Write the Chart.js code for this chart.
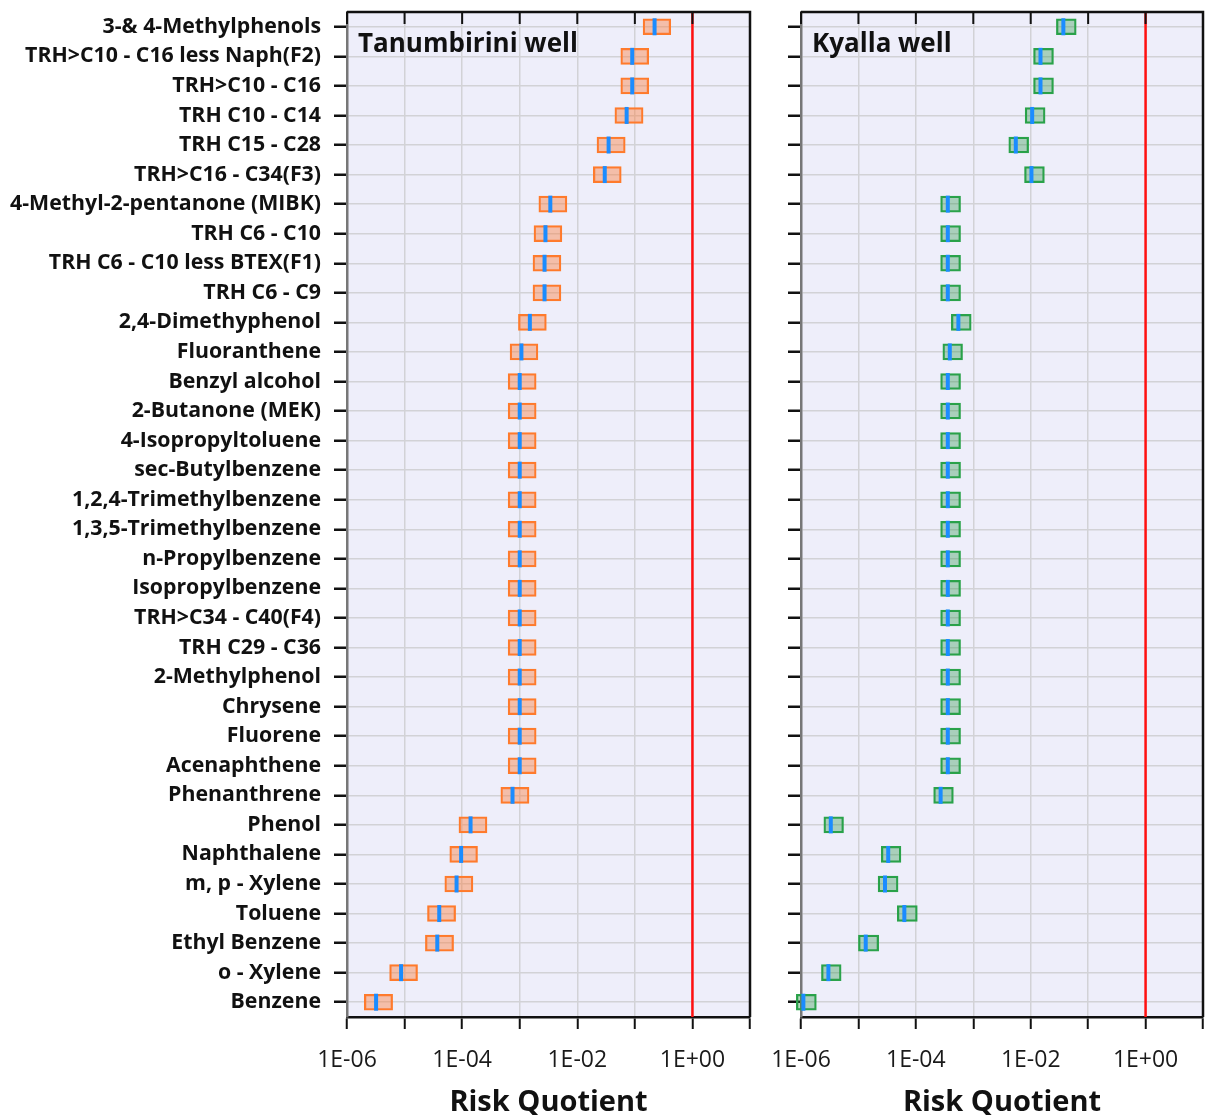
<!DOCTYPE html>
<html>
<head>
<meta charset="utf-8">
<script src="https://cdn.jsdelivr.net/npm/chart.js@4.4.1/dist/chart.umd.min.js"></script>
<style>
  html, body { margin: 0; padding: 0; background: #ffffff; }
  #wrap { position: relative; width: 1206px; height: 1115px; overflow: hidden; }
  .panel { position: absolute; top: 0; height: 1115px; }
  #pL { left: 0; width: 760px; }
  #pR { left: 760px; width: 446px; }
</style>
</head>
<body>
<div id="wrap">
  <div class="panel" id="pL"><canvas id="cL"></canvas></div>
  <div class="panel" id="pR"><canvas id="cR"></canvas></div>
</div>
<script>
const categories = [
  '3-& 4-Methylphenols', 'TRH>C10 - C16 less Naph(F2)', 'TRH>C10 - C16', 'TRH C10 - C14',
  'TRH C15 - C28', 'TRH>C16 - C34(F3)', '4-Methyl-2-pentanone (MIBK)', 'TRH C6 - C10',
  'TRH C6 - C10 less BTEX(F1)', 'TRH C6 - C9', '2,4-Dimethyphenol', 'Fluoranthene',
  'Benzyl alcohol', '2-Butanone (MEK)', '4-Isopropyltoluene', 'sec-Butylbenzene',
  '1,2,4-Trimethylbenzene', '1,3,5-Trimethylbenzene', 'n-Propylbenzene', 'Isopropylbenzene',
  'TRH>C34 - C40(F4)', 'TRH C29 - C36', '2-Methylphenol', 'Chrysene', 'Fluorene',
  'Acenaphthene', 'Phenanthrene', 'Phenol', 'Naphthalene', 'm, p - Xylene', 'Toluene',
  'Ethyl Benzene', 'o - Xylene', 'Benzene'
];

// Tanumbirini well: central value and box extents
const tanValues = [0.22, 0.09, 0.09, 0.072, 0.035, 0.030, 0.0034, 0.0028, 0.0027, 0.0027,
  0.0015, 0.00107, 0.001, 0.001, 0.001, 0.001, 0.001, 0.001, 0.001, 0.001,
  0.001, 0.001, 0.001, 0.001, 0.001, 0.001, 0.00075, 1.4e-4, 9.6e-5, 8.0e-5,
  4.0e-5, 3.7e-5, 8.7e-6, 3.2e-6];
const tanLow = [0.139, 0.057, 0.057, 0.045, 0.022, 0.019, 0.00215, 0.00177, 0.0017, 0.0017,
  0.00095, 0.00068, 0.00063, 0.00063, 0.00063, 0.00063, 0.00063, 0.00063, 0.00063, 0.00063,
  0.00063, 0.00063, 0.00063, 0.00063, 0.00063, 0.00063, 0.00047, 8.8e-5, 6.1e-5, 5.0e-5,
  2.5e-5, 2.3e-5, 5.5e-6, 2.0e-6];
const tanHigh = [0.42, 0.174, 0.174, 0.139, 0.068, 0.058, 0.0066, 0.0054, 0.0052, 0.0052,
  0.0029, 0.00207, 0.00193, 0.00193, 0.00193, 0.00193, 0.00193, 0.00193, 0.00193, 0.00193,
  0.00193, 0.00193, 0.00193, 0.00193, 0.00193, 0.00193, 0.00145, 2.7e-4, 1.85e-4, 1.54e-4,
  7.7e-5, 7.1e-5, 1.68e-5, 6.2e-6];

// Kyalla well: central value and box extents
const kyaValues = [0.037, 0.0148, 0.0148, 0.0106, 0.0055, 0.0103, 3.6e-4, 3.6e-4, 3.6e-4, 3.6e-4,
  5.5e-4, 3.9e-4, 3.6e-4, 3.6e-4, 3.6e-4, 3.6e-4, 3.6e-4, 3.6e-4, 3.6e-4, 3.6e-4,
  3.6e-4, 3.6e-4, 3.6e-4, 3.6e-4, 3.6e-4, 3.6e-4, 2.7e-4, 3.3e-6, 3.3e-5, 2.9e-5,
  6.3e-5, 1.34e-5, 3.0e-6, 1.1e-6];
const kyaLow = [0.028, 0.0112, 0.0112, 0.008, 0.00415, 0.0078, 2.7e-4, 2.7e-4, 2.7e-4, 2.7e-4,
  4.15e-4, 2.95e-4, 2.7e-4, 2.7e-4, 2.7e-4, 2.7e-4, 2.7e-4, 2.7e-4, 2.7e-4, 2.7e-4,
  2.7e-4, 2.7e-4, 2.7e-4, 2.7e-4, 2.7e-4, 2.7e-4, 2.04e-4, 2.5e-6, 2.5e-5, 2.2e-5,
  4.75e-5, 1.0e-5, 2.27e-6, 8.3e-7];
const kyaHigh = [0.062, 0.0249, 0.0249, 0.0178, 0.0092, 0.0173, 6.0e-4, 6.0e-4, 6.0e-4, 6.0e-4,
  9.2e-4, 6.5e-4, 6.0e-4, 6.0e-4, 6.0e-4, 6.0e-4, 6.0e-4, 6.0e-4, 6.0e-4, 6.0e-4,
  6.0e-4, 6.0e-4, 6.0e-4, 6.0e-4, 6.0e-4, 6.0e-4, 4.5e-4, 5.5e-6, 5.5e-5, 4.9e-5,
  1.06e-4, 2.25e-5, 5.0e-6, 1.85e-6];

const xTickValues = [1e-6, 1e-5, 1e-4, 1e-3, 1e-2, 1e-1, 1, 10];
const xTickLabels = ['1E-06', '', '1E-04', '', '1E-02', '', '1E+00', ''];
const thresholdValue = 1;
const panelTitles = ['Tanumbirini well', 'Kyalla well'];

const FONT = '"Open Sans", Lato, sans-serif';

const framePlugin = {
  id: 'frame',
  beforeDraw(chart) {
    const {ctx, chartArea: a} = chart;
    ctx.save();
    ctx.fillStyle = '#eeeefa';
    ctx.fillRect(a.left, a.top, a.right - a.left, a.bottom - a.top);
    ctx.restore();
  },
  afterDatasetsDraw(chart) {
    const {ctx, chartArea: a, scales} = chart;
    const xr = scales.x.getPixelForValue(thresholdValue);
    ctx.save();
    ctx.strokeStyle = '#ff1010';
    ctx.lineWidth = 2.5;
    ctx.beginPath();
    ctx.moveTo(xr, a.top);
    ctx.lineTo(xr, a.bottom);
    ctx.stroke();
    ctx.restore();
  },
  afterDraw(chart, args, opts) {
    const {ctx, chartArea: a, scales} = chart;
    ctx.save();
    ctx.strokeStyle = '#111';
    ctx.lineWidth = 2.5;
    ctx.beginPath();
    ctx.moveTo(a.left, a.top);
    ctx.lineTo(a.right, a.top);
    ctx.lineTo(a.right, a.bottom);
    ctx.stroke();
    ctx.lineWidth = 2;
    xTickValues.forEach(v => {
      const px = scales.x.getPixelForValue(v);
      ctx.beginPath();
      ctx.moveTo(px, a.top);
      ctx.lineTo(px, a.top + 12);
      ctx.stroke();
    });
    ctx.fillStyle = '#111';
    ctx.font = 'bold 26px ' + FONT;
    ctx.textBaseline = 'alphabetic';
    ctx.textAlign = 'left';
    ctx.fillText(opts.title, a.left + 11, a.top + 40);
    ctx.restore();
  }
};

function zeroPad(s) {
  s.paddingLeft = 0; s.paddingRight = 0; s.paddingTop = 0; s.paddingBottom = 0;
}

function makeChart(id, low, high, values, fill, border, showLabels, yWidth, padRight, title) {
  return new Chart(document.getElementById(id), {
    type: 'bar',
    data: {
      labels: categories,
      datasets: [
        {
          type: 'line',
          data: values,
          showLine: false,
          pointStyle: 'line',
          pointRotation: 90,
          pointRadius: 8.5,
          pointHoverRadius: 8.5,
          pointBorderWidth: 4,
          pointBorderColor: '#1b8cff',
          pointBackgroundColor: '#1b8cff',
          order: 0,
          clip: false
        },
        {
          type: 'bar',
          data: low.map((l, i) => [l, high[i]]),
          backgroundColor: fill,
          borderColor: border,
          borderWidth: 1.6,
          borderSkipped: false,
          barThickness: 16,
          order: 1,
          clip: false
        }
      ]
    },
    options: {
      indexAxis: 'y',
      responsive: true,
      maintainAspectRatio: false,
      animation: false,
      events: [],
      layout: { autoPadding: false, padding: { top: 12, right: padRight, left: 0, bottom: 0 } },
      plugins: {
        legend: { display: false },
        tooltip: { enabled: false },
        frame: { title: title }
      },
      scales: {
        x: {
          type: 'logarithmic',
          position: 'bottom',
          min: 1e-6,
          max: 10,
          afterBuildTicks: s => { s.ticks = xTickValues.map(v => ({ value: v })); },
          afterFit: s => { s.height = 98; zeroPad(s); },
          ticks: {
            autoSkip: false,
            maxRotation: 0,
            padding: 18,
            color: '#1a1a1a',
            font: { family: FONT, size: 23 },
            callback: (v, i) => xTickLabels[i]
          },
          grid: {
            color: '#d2d2d6',
            lineWidth: 1.5,
            tickColor: '#111',
            tickWidth: 2,
            tickLength: 12
          },
          border: { color: '#111', width: 2.5 },
          title: {
            display: true,
            text: 'Risk Quotient',
            color: '#111',
            font: { family: FONT, size: 29, weight: 'bold', lineHeight: 1 },
            padding: { top: 0, bottom: -2 }
          }
        },
        y: {
          type: 'category',
          offset: true,
          afterFit: s => { s.width = yWidth; zeroPad(s); },
          ticks: {
            display: showLabels,
            autoSkip: false,
            padding: 13,
            color: '#111',
            font: { family: FONT, size: 21.3, weight: 'bold' }
          },
          grid: {
            offset: false,
            color: '#d2d2d6',
            lineWidth: 1.5,
            tickColor: '#111',
            tickWidth: 2.5,
            tickLength: 13
          },
          border: { color: '#777', width: 2.5 }
        }
      }
    },
    plugins: [framePlugin]
  });
}

makeChart('cL', tanLow, tanHigh, tanValues, 'rgba(250,130,70,0.45)', '#ff7a2a', true, 347, 10, panelTitles[0]);
makeChart('cR', kyaLow, kyaHigh, kyaValues, 'rgba(40,150,70,0.35)', '#2aa34a', false, 41, 3, panelTitles[1]);
</script>
</body>
</html>
